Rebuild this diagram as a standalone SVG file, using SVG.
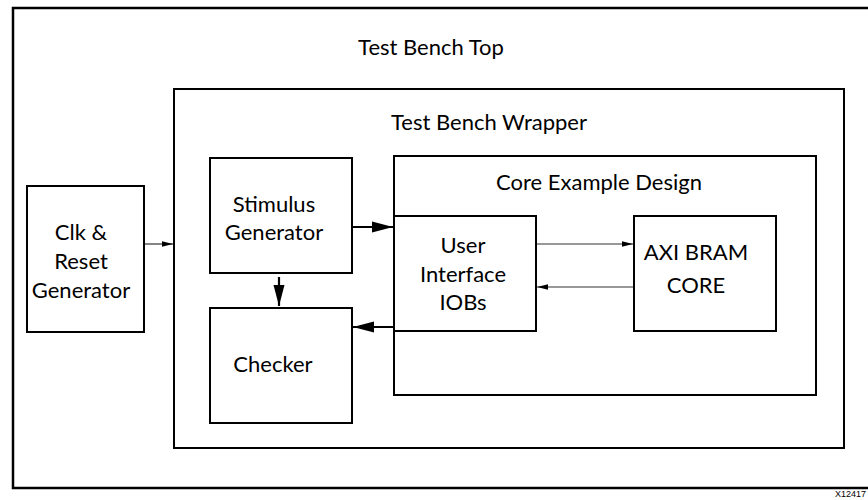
<svg xmlns="http://www.w3.org/2000/svg" width="868" height="500" viewBox="0 0 868 500">
<defs>
<style>
.box{fill:none;stroke:#000;stroke-width:2}
.outer{fill:none;stroke:#000;stroke-width:2.5}
.lbl{font-family:Lato,"Open Sans","Liberation Sans",sans-serif;font-size:22px;fill:#000;text-anchor:middle}
.thin{stroke:#333;stroke-width:1.2;fill:none}
.thick{stroke:#000;stroke-width:2.2;fill:none}
.note{font-family:"Liberation Sans",sans-serif;font-size:9px;fill:#000;text-anchor:end}
</style>
<marker id="big" markerUnits="userSpaceOnUse" markerWidth="22" markerHeight="12" refX="21" refY="6" orient="auto">
<path d="M0,0.5 L21,6 L0,11.5 z" fill="#000"/>
</marker>
<marker id="small" markerUnits="userSpaceOnUse" markerWidth="12" markerHeight="7" refX="11" refY="3.5" orient="auto">
<path d="M0,0.8 L11,3.5 L0,6.2 z" fill="#000"/>
</marker>
</defs>
<rect width="868" height="500" fill="#fff"/>
<g id="testbench-top">
<rect class="outer" x="13" y="8" width="880" height="480"/>
<text class="lbl" x="431" y="55">Test Bench Top</text>
</g>
<g id="testbench-wrapper">
<rect class="box" x="174" y="89" width="670" height="359"/>
<text class="lbl" x="489" y="130">Test Bench Wrapper</text>
</g>
<g id="core-example">
<rect class="box" x="394" y="156" width="422" height="239"/>
<text class="lbl" x="599" y="190">Core Example Design</text>
</g>
<g id="clk-reset">
<rect class="box" x="27" y="186" width="117" height="146"/>
<text class="lbl" x="81" y="240">Clk &amp;</text>
<text class="lbl" x="81" y="269">Reset</text>
<text class="lbl" x="81" y="298">Generator</text>
</g>
<g id="stimulus">
<rect class="box" x="210" y="158" width="142" height="115"/>
<text class="lbl" x="274" y="212">Stimulus</text>
<text class="lbl" x="274" y="240">Generator</text>
</g>
<g id="checker">
<rect class="box" x="210" y="308" width="142" height="115"/>
<text class="lbl" x="273" y="372">Checker</text>
</g>
<g id="user-interface">
<rect class="box" x="394" y="216" width="142" height="115"/>
<text class="lbl" x="463" y="253">User</text>
<text class="lbl" x="463" y="282">Interface</text>
<text class="lbl" x="463" y="310">IOBs</text>
</g>
<g id="axi-bram">
<rect class="box" x="634" y="216" width="142" height="115"/>
<text class="lbl" x="696" y="260">AXI BRAM</text>
<text class="lbl" x="696" y="293">CORE</text>
</g>
<g id="connectors">
<line class="thin" x1="145" y1="244" x2="173" y2="244" marker-end="url(#small)"/>
<line class="thick" x1="353" y1="227" x2="393" y2="227" marker-end="url(#big)"/>
<line class="thick" x1="279" y1="277" x2="279" y2="306" marker-end="url(#big)"/>
<line class="thick" x1="394" y1="327" x2="353" y2="327" marker-end="url(#big)"/>
<line class="thin" x1="537" y1="244" x2="633" y2="244" marker-end="url(#small)"/>
<line class="thin" x1="633" y1="287" x2="537" y2="287" marker-end="url(#small)"/>
</g>
<text class="note" x="866" y="497">X12417</text>
</svg>
